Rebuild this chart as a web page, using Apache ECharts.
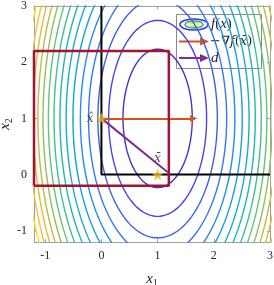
<!DOCTYPE html>
<html><head><meta charset="utf-8">
<script src="https://cdn.jsdelivr.net/npm/echarts@6/dist/echarts.min.js"></script>
<style>html,body{margin:0;padding:0;background:#fff}#c{width:274px;height:285px}</style>
</head><body><div id="c"></div>
<script>
// ---------------- data ----------------
const xTicks = [-1, 0, 1, 2, 3];
const yTicks = [-1, 0, 1, 2, 3];
const xRange = [-1.2, 3];
const yRange = [-1.2, 3];
// f(x) = w1 (x1 - c1)^2 + w2 (x2 - c2)^2
const fCenter = [1, 1];
const fWeights = [1, 0.25];
const contourLevels = [0.38, 0.76, 1.13, 1.51, 1.89, 2.27, 2.65, 3.02, 3.40, 3.78, 4.16, 4.54, 4.91, 5.29, 5.67];
const colorRange = [0, 6.05];
const feasibleBoundary = [[0, 3], [0, 0], [3, 0]];
const boxCorners = [[-1.2, -0.2], [1.2, -0.2], [1.2, 2.2], [-1.2, 2.2], [-1.2, -0.2]];
const pointHat = [0, 1];
const pointBar = [1, 0];
const negGradEnd = [1.64, 1];
const dirEnd = [1.18, 0.04];

// ---------------- helpers ----------------
const parulaStops = [
  [0.000, [62, 38, 168]],
  [0.125, [70, 68, 228]],
  [0.250, [48, 120, 244]],
  [0.375, [20, 160, 222]],
  [0.500, [34, 184, 168]],
  [0.625, [98, 196, 118]],
  [0.750, [190, 188, 68]],
  [0.875, [252, 190, 61]],
  [1.000, [249, 251, 20]]
];
function parula(t) {
  t = Math.max(0, Math.min(1, t));
  for (let i = 1; i < parulaStops.length; i++) {
    const [t1, c1] = parulaStops[i];
    const [t0, c0] = parulaStops[i - 1];
    if (t <= t1) {
      const u = (t - t0) / (t1 - t0);
      const c = c0.map((v, j) => Math.round(v + (c1[j] - v) * u));
      return 'rgb(' + c.join(',') + ')';
    }
  }
  return 'rgb(249,251,20)';
}
function contourOf(level) {
  const rx = Math.sqrt(level / fWeights[0]);
  const ry = Math.sqrt(level / fWeights[1]);
  const pts = [];
  const n = 240;
  for (let i = 0; i <= n; i++) {
    const a = (i / n) * 2 * Math.PI;
    pts.push([fCenter[0] + rx * Math.cos(a), fCenter[1] + ry * Math.sin(a)]);
  }
  return pts;
}

const SERIF = 'Liberation Serif';
const STAR = 'path://M0,-10 L2.35,-3.24 L9.51,-3.09 L3.80,1.24 L5.88,8.09 L0,4 L-5.88,8.09 L-3.80,1.24 L-9.51,-3.09 L-2.35,-3.24 Z';

const series = [];
contourLevels.forEach(L => {
  series.push({
    type: 'line', data: contourOf(L), showSymbol: false, symbol: 'none',
    lineStyle: { color: parula((L - colorRange[0]) / (colorRange[1] - colorRange[0])), width: 1.4 },
    clip: true, silent: true, z: 2, animation: false
  });
});
series.push({
  type: 'line', data: feasibleBoundary, showSymbol: false, symbol: 'none',
  lineStyle: { color: '#000', width: 2 }, clip: true, z: 3, animation: false
});
series.push({
  type: 'lines', coordinateSystem: 'cartesian2d', z: 4, animation: false,
  data: [{ coords: [pointHat, negGradEnd] }],
  lineStyle: { color: '#D95319', width: 2, opacity: 1 },
  symbol: ['none', 'triangle'], symbolSize: [5, 7]
});
series.push({
  type: 'lines', coordinateSystem: 'cartesian2d', z: 4, animation: false,
  data: [{ coords: [pointHat, dirEnd] }],
  lineStyle: { color: '#7E2F8E', width: 2, opacity: 1 },
  symbol: ['none', 'none']
});
series.push({
  type: 'line', data: boxCorners, showSymbol: false, symbol: 'none',
  lineStyle: { color: '#A2142F', width: 2.5 }, clip: false, z: 5, animation: false
});
series.push({
  type: 'scatter', z: 6, animation: false,
  symbol: STAR, symbolSize: 12,
  itemStyle: { color: '#EDB120' },
  data: [
    { value: pointHat, label: { show: true, position: 'left', distance: 2, formatter: 'x\u0302' } },
    { value: pointBar, label: { show: true, position: 'top', distance: 4, formatter: 'x\u0304' } }
  ],
  label: { fontFamily: 'DejaVu Serif', fontStyle: 'italic', fontSize: 12, color: '#262626' }
});

const axisCommon = (min, max, ticks) => ({
  type: 'value', min: min, max: max,
  axisLine: { show: true, onZero: false, lineStyle: { color: '#a0a0a0', width: 1 } },
  axisTick: { show: true, inside: true, length: 3, customValues: ticks, lineStyle: { color: '#a0a0a0' } },
  splitLine: { show: false }
});
const nameRich = {
  x: { fontFamily: SERIF, fontStyle: 'italic', fontSize: 15, color: '#262626' },
  s: { fontFamily: SERIF, fontSize: 10, color: '#262626', padding: [7, 0, 0, 0] }
};

const option = {
  animation: false,
  backgroundColor: '#fff',
  grid: { left: 34, top: 6, width: 236, height: 236, containLabel: false, outerBoundsMode: 'none' },
  xAxis: [
    Object.assign(axisCommon(xRange[0], xRange[1], xTicks), {
      position: 'bottom',
      axisLabel: { customValues: xTicks, color: '#262626', fontSize: 12, fontFamily: SERIF, margin: 8 },
      name: '{x|x}{s|1}', nameLocation: 'middle', nameGap: 29, nameMoveOverlap: false,
      nameTextStyle: { rich: nameRich }
    }),
    Object.assign(axisCommon(xRange[0], xRange[1], xTicks), {
      position: 'top', axisLabel: { show: false }
    })
  ],
  yAxis: [
    Object.assign(axisCommon(yRange[0], yRange[1], yTicks), {
      position: 'left',
      axisLabel: { customValues: yTicks, color: '#262626', fontSize: 12, fontFamily: SERIF, margin: 7 },
      name: '{x|x}{s|2}', nameLocation: 'middle', nameGap: 20, nameRotate: 90, nameMoveOverlap: false,
      nameTextStyle: { rich: nameRich }
    }),
    Object.assign(axisCommon(yRange[0], yRange[1], yTicks), {
      position: 'right', axisLabel: { show: false }
    })
  ],
  series: series,
  graphic: [{
    type: 'group', left: 176, top: 14, z: 100,
    children: [
      { type: 'rect', shape: { x: 0.5, y: 0.5, width: 85, height: 54 }, style: { fill: '#fff', stroke: '#8a8a8a', lineWidth: 1 } },
      { type: 'ellipse', shape: { cx: 18, cy: 10.5, rx: 14, ry: 5.5 }, style: { fill: 'none', stroke: parula(0.06), lineWidth: 1.6 } },
      { type: 'ellipse', shape: { cx: 18, cy: 10.5, rx: 9, ry: 3.4 }, style: { fill: 'none', stroke: parula(0.45), lineWidth: 1.6 } },
      { type: 'ellipse', shape: { cx: 18, cy: 10.5, rx: 4.5, ry: 1.6 }, style: { fill: 'none', stroke: parula(0.97), lineWidth: 1.6 } },
      { type: 'text', x: 35, y: 10.5, style: { text: '{i|f}{n|(}{i|x}{n|)}', verticalAlign: 'middle', rich: {
        i: { fontFamily: SERIF, fontStyle: 'italic', fontSize: 15, fill: '#262626' },
        n: { fontFamily: SERIF, fontSize: 15, fill: '#262626' } } } },
      { type: 'line', shape: { x1: 3, y1: 27.5, x2: 26, y2: 27.5 }, style: { stroke: '#D95319', lineWidth: 2 } },
      { type: 'polygon', shape: { points: [[24, 23.5], [33, 27.5], [24, 31.5]] }, style: { fill: '#D95319' } },
      { type: 'text', x: 34, y: 27.5, style: { text: '{n|\u2212\u2207}{i|f}{n|(}{i|x\u0304}{n|)}', verticalAlign: 'middle', rich: {
        i: { fontFamily: 'DejaVu Serif', fontStyle: 'italic', fontSize: 13, fill: '#262626' },
        n: { fontFamily: 'DejaVu Serif', fontSize: 13, fill: '#262626' } } } },
      { type: 'line', shape: { x1: 3, y1: 44, x2: 26, y2: 44 }, style: { stroke: '#7E2F8E', lineWidth: 2 } },
      { type: 'polygon', shape: { points: [[24, 40], [33, 44], [24, 48]] }, style: { fill: '#7E2F8E' } },
      { type: 'text', x: 35, y: 44, style: { text: 'd', verticalAlign: 'middle', fontFamily: SERIF, fontStyle: 'italic', fontSize: 15, fill: '#262626' } }
    ]
  }]
};
const chart = echarts.init(document.getElementById('c'), null, { renderer: 'canvas' });
chart.setOption(option);
</script>
</body></html>
